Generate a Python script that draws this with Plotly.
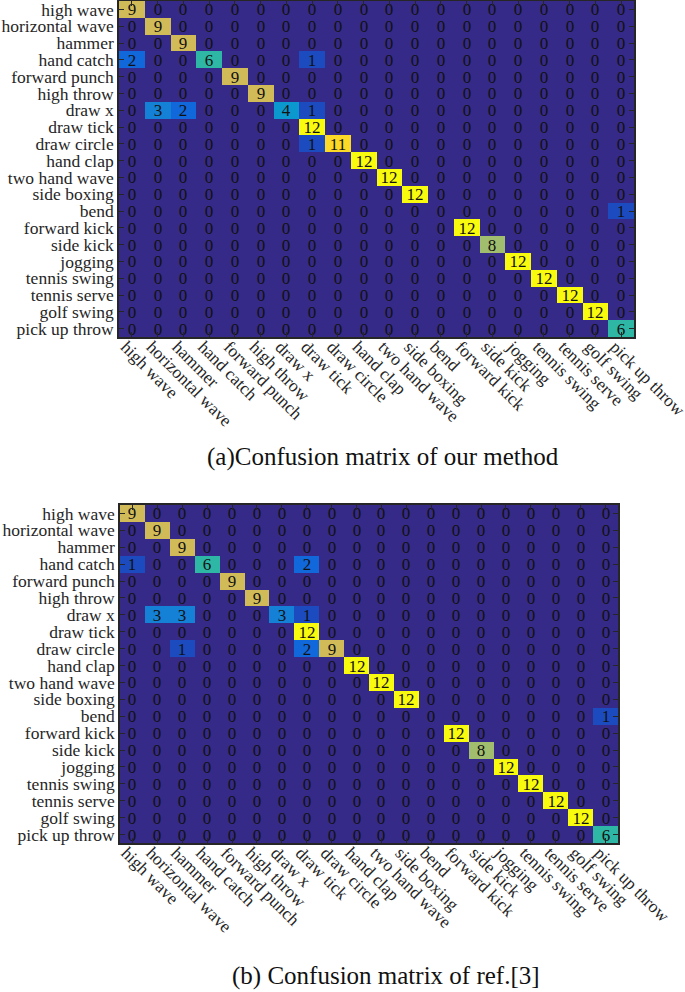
import plotly.graph_objects as go

labels = ["high wave", "horizontal wave", "hammer", "hand catch", "forward punch",
          "high throw", "draw x", "draw tick", "draw circle", "hand clap",
          "two hand wave", "side boxing", "bend", "forward kick", "side kick",
          "jogging", "tennis swing", "tennis serve", "golf swing", "pick up throw"]

# non-zero entries: (row, col, value)
ours_entries = [(0, 0, 9), (1, 1, 9), (2, 2, 9), (3, 0, 2), (3, 3, 6), (3, 7, 1),
                (4, 4, 9), (5, 5, 9), (6, 1, 3), (6, 2, 2), (6, 6, 4), (6, 7, 1),
                (7, 7, 12), (8, 7, 1), (8, 8, 11), (9, 9, 12), (10, 10, 12),
                (11, 11, 12), (12, 19, 1), (13, 13, 12), (14, 14, 8), (15, 15, 12),
                (16, 16, 12), (17, 17, 12), (18, 18, 12), (19, 19, 6)]
ref_entries = [(0, 0, 9), (1, 1, 9), (2, 2, 9), (3, 0, 1), (3, 3, 6), (3, 7, 2),
               (4, 4, 9), (5, 5, 9), (6, 1, 3), (6, 2, 3), (6, 6, 3), (6, 7, 1),
               (7, 7, 12), (8, 2, 1), (8, 7, 2), (8, 8, 9), (9, 9, 12), (10, 10, 12),
               (11, 11, 12), (12, 19, 1), (13, 13, 12), (14, 14, 8), (15, 15, 12),
               (16, 16, 12), (17, 17, 12), (18, 18, 12), (19, 19, 6)]


def build(entries):
    m = [[0] * len(labels) for _ in labels]
    for r, c, v in entries:
        m[r][c] = v
    return m


z_ours = build(ours_entries)
z_ref = build(ref_entries)

parula = [[0.0, "#352a87"], [0.125, "#0f5cdd"], [0.25, "#1481d6"], [0.375, "#06a4ca"],
          [0.5, "#2eb7a4"], [0.625, "#87bf77"], [0.75, "#d1bb59"], [0.875, "#fec832"],
          [1.0, "#f9fb0e"]]

FONT = "Liberation Serif"
AXC = "#262626"

fig = go.Figure()
for z, xa, ya in [(z_ours, "x", "y"), (z_ref, "x2", "y2")]:
    fig.add_trace(go.Heatmap(
        z=z, x=labels, y=labels, xaxis=xa, yaxis=ya,
        colorscale=parula, zmin=0, zmax=12, showscale=False,
        texttemplate="%{z}", textfont=dict(family=FONT, size=17, color="#111111"),
    ))

axis_common = dict(
    showline=True, linecolor=AXC, linewidth=1.5, mirror="ticks",
    ticks="inside", ticklen=5, tickcolor=AXC, tickwidth=1,
    tickmode="array", tickvals=labels, ticktext=labels,
    tickfont=dict(family=FONT, size=17.5, color=AXC), automargin=False,
    showgrid=False, zeroline=False,
)
x_extra = dict(tickangle=45, ticklabelshift=-6, ticklabelstandoff=-9)

H, W = 992, 685
fig.update_layout(
    width=W, height=H, margin=dict(l=0, r=0, t=0, b=0),
    paper_bgcolor="white", plot_bgcolor="white",
    xaxis=dict(domain=[119 / W, 634 / W], anchor="y", **x_extra, **axis_common),
    yaxis=dict(domain=[1 - 337 / H, 1 - 1 / H], anchor="x", autorange="reversed", **axis_common),
    xaxis2=dict(domain=[120 / W, 618 / W], anchor="y2", **x_extra, **axis_common),
    yaxis2=dict(domain=[1 - 843 / H, 1 - 505 / H], anchor="x2", autorange="reversed", **axis_common),
    annotations=[
        dict(text="(a)Confusion matrix of our method", x=383 / W, y=1 - 457 / H,
             xref="paper", yref="paper", xanchor="center", yanchor="middle", showarrow=False,
             font=dict(family=FONT, size=25, color="#111111")),
        dict(text="(b) Confusion matrix of ref.[3]", x=386 / W, y=1 - 976 / H,
             xref="paper", yref="paper", xanchor="center", yanchor="middle", showarrow=False,
             font=dict(family=FONT, size=25, color="#111111")),
    ],
)

fig.write_html("out.html", config={"displayModeBar": False},
               post_script="document.body.style.margin='0';")
